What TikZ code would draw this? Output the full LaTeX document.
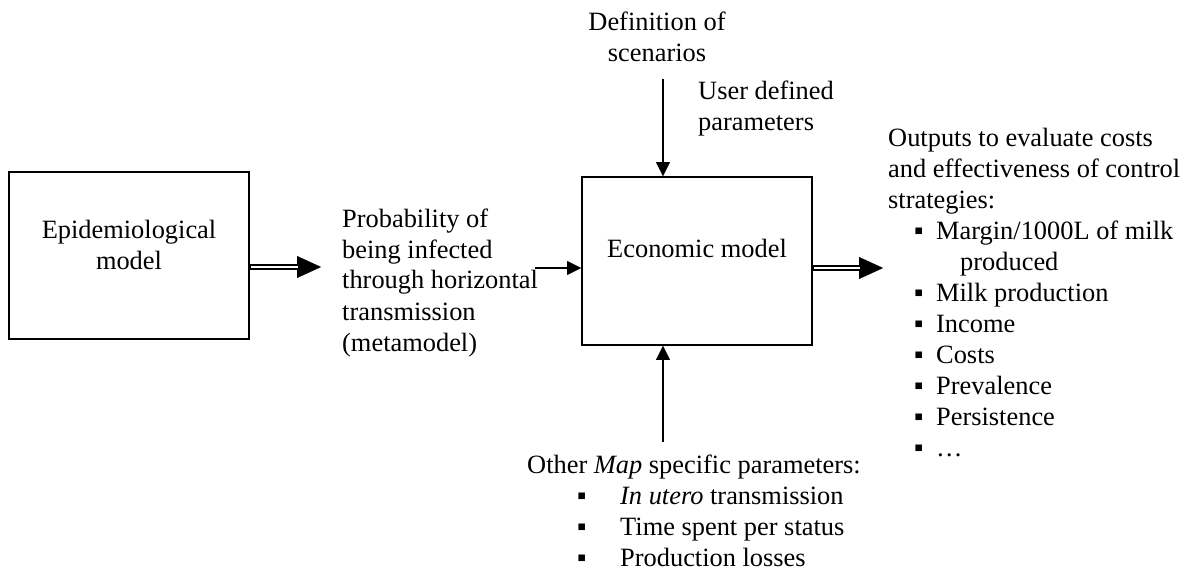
\documentclass[tikz,border=0pt]{standalone}
\usepackage{fontspec}
\setmainfont{Liberation Serif}
\usetikzlibrary{arrows.meta}

% multi-line text block whose baseline is the first line
\newcommand\mltext[2]{\begin{tabular}[t]{@{}#1@{}}#2\end{tabular}}
\newcommand\sqb{\makebox[0pt][l]{▪}}

\tikzset{
  txt/.style={inner sep=0pt, font=\fontsize{26.4}{31}\selectfont},
  modelbox/.style={draw, line width=1.6pt, inner sep=0pt},
  thinarrow/.style={line width=1.5pt, -{Triangle[length=14pt,width=14pt,line width=0.01pt]}},
  dblarrow/.style={line width=6.5pt, -{Triangle[length=24pt,width=22pt,line width=0.01pt]},
    postaction={draw=white, line width=1.6pt, -, shorten >=23pt, shorten <=1.2pt}}
}

\begin{document}
\begin{tikzpicture}[x=1pt,y=-1pt]
\useasboundingbox (0,0) rectangle (1199,572);

% the two model boxes
\node[modelbox, minimum width=240pt, minimum height=167pt] (epi) at (129,255.5) {};
\node[modelbox, minimum width=230pt, minimum height=168pt] (eco) at (697,261) {};

\node[txt, anchor=base] (epilabel) at (129,238) {\mltext{c}{Epidemiological\\model}};
\node[txt, anchor=base] (ecolabel) at (697,257) {Economic model};

% inputs and outputs
\node[txt, anchor=base] (scen) at (657,31) {\mltext{c}{Definition of\\scenarios}};
\node[txt, anchor=base west] (user) at (698,100) {\mltext{l}{User defined\\parameters}};
\node[txt, anchor=base west] (prob) at (342,227)
  {\mltext{l}{Probability of\\being infected\\through horizontal\\transmission\\(metamodel)}};
\node[txt, anchor=base west] (outs) at (888,147)
  {\mltext{l}{Outputs to evaluate costs\\
   and effectiveness of control\\
   strategies:\\
   \hspace{26pt}\sqb\hspace{22pt}Margin/1000L of milk\\
   \hspace{72pt}produced\\
   \hspace{26pt}\sqb\hspace{22pt}Milk production\\
   \hspace{26pt}\sqb\hspace{22pt}Income\\
   \hspace{26pt}\sqb\hspace{22pt}Costs\\
   \hspace{26pt}\sqb\hspace{22pt}Prevalence\\
   \hspace{26pt}\sqb\hspace{22pt}Persistence\\
   \hspace{26pt}\sqb\hspace{22pt}…}};
\node[txt, anchor=base west] (other) at (527,473)
  {\mltext{l}{Other \textit{Map} specific parameters:\\
   \hspace{50pt}\sqb\hspace{43pt}\textit{In utero} transmission\\
   \hspace{50pt}\sqb\hspace{43pt}Time spent per status\\
   \hspace{50pt}\sqb\hspace{43pt}Production losses}};

% connector end points
\coordinate (probtip) at (321,267);
\coordinate (probstart) at (535,268);
\coordinate (scenend) at (663,79);
\coordinate (otherend) at (663,442);
\coordinate (outtip) at (883,268);

\draw[dblarrow] (epi.east |- probtip) -- (probtip);
\draw[thinarrow] (probstart) -- (eco.west |- probstart);
\draw[thinarrow] (scenend) -- (eco.north -| scenend);
\draw[thinarrow] (otherend) -- (eco.south -| otherend);
\draw[dblarrow] (eco.east |- outtip) -- (outtip);
\end{tikzpicture}
\end{document}
